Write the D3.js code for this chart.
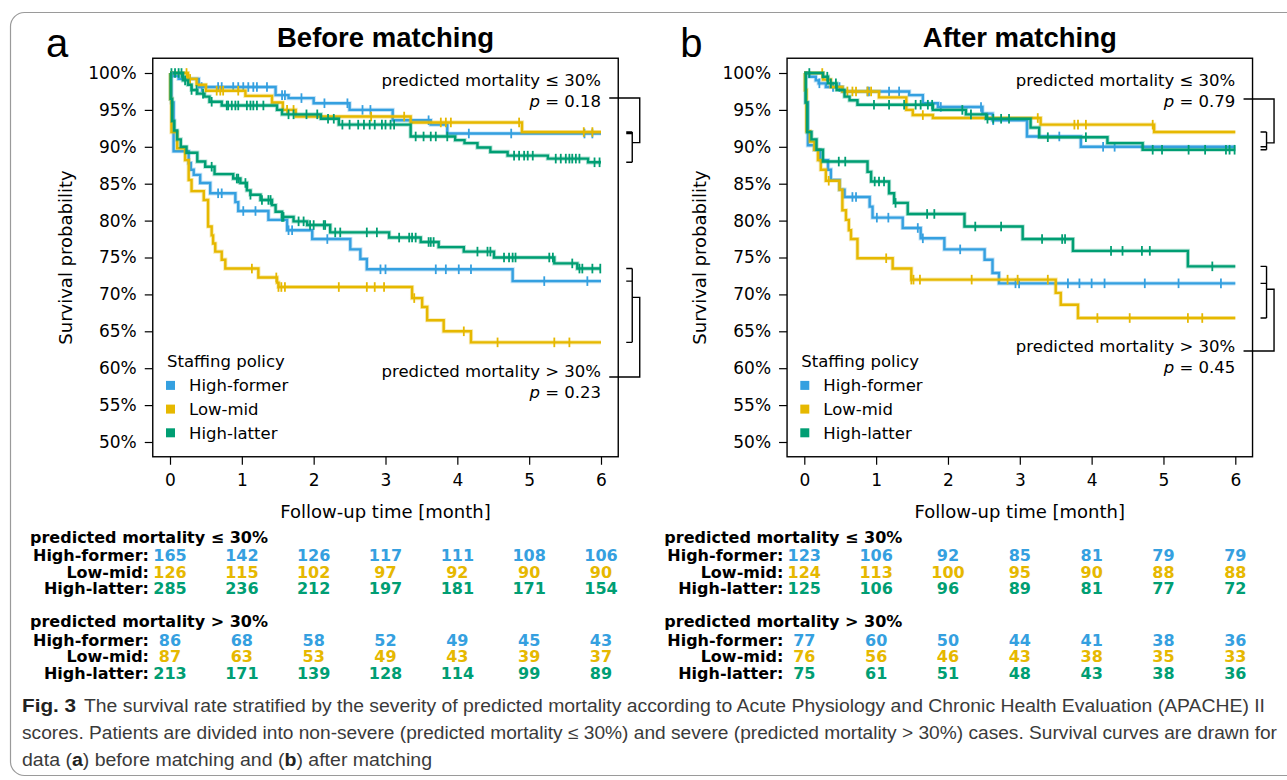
<!DOCTYPE html>
<html>
<head>
<meta charset="utf-8">
<script src="https://cdn.jsdelivr.net/npm/d3@7"></script>
<style>
  body { margin: 0; background: #fff; }
  svg { display: block; }
</style>
</head>
<body>
<svg id="chart" width="1287" height="780"></svg>
<script>
// groups and axis ticks
const groups = ['High-former', 'Low-mid', 'High-latter'];
const groupColors = ['#35a0e0', '#e6b800', '#009e73'];
const timeTicks = [0, 1, 2, 3, 4, 5, 6];
const survTicks = [50, 55, 60, 65, 70, 75, 80, 85, 90, 95, 100];

// Kaplan-Meier steps [month, survival %]
// before matching, predicted mortality <= 30%
const beforeLowHF = [[0,100],[0.05,99.6],[0.12,99.2],[0.4,98.1],[1.47,97.0],[1.65,96.6],[2.0,95.9],[2.5,95.0],[3.1,93.6],[3.63,93.0],[3.86,91.8]];
const beforeLowLM = [[0,100],[0.25,99.2],[0.37,98.4],[0.5,97.6],[1.05,96.9],[1.42,96.0],[1.57,95.0],[1.75,94.1],[3.35,93.3],[4.9,92.0]];
const beforeLowHL = [[0,100],[0.18,99.0],[0.25,98.4],[0.3,97.7],[0.38,97.2],[0.48,96.8],[0.55,96.1],[0.72,95.6],[1.49,95.0],[1.56,94.4],[2.1,93.8],[2.35,93.0],[3.35,91.4],[3.97,90.9],[4.1,90.5],[4.28,89.9],[4.46,89.3],[4.7,88.8],[5.26,88.4],[5.82,87.9]];
// before matching, predicted mortality > 30%
const beforeHighHF = [[0,100],[0.02,96.0],[0.05,89.4],[0.26,87.8],[0.29,86.9],[0.33,86.2],[0.42,85.1],[0.56,83.7],[0.91,82.5],[0.95,81.3],[1.37,80.1],[1.63,78.7],[1.98,77.5],[2.51,76.1],[2.65,74.8],[2.74,73.4],[4.77,71.8]];
const beforeHighLM = [[0,100],[0.005,96.5],[0.02,92.0],[0.1,89.8],[0.21,88.2],[0.26,85.5],[0.3,84.0],[0.47,82.8],[0.53,79.2],[0.58,78.0],[0.6,76.9],[0.63,75.8],[0.72,74.7],[0.77,73.5],[1.23,72.3],[1.49,71.6],[1.51,71.0],[3.37,69.5],[3.51,68.3],[3.58,66.5],[3.81,65.0],[4.19,63.5]];
const beforeHighHL = [[0,100],[0.01,96.5],[0.03,93.5],[0.06,92.2],[0.1,91.0],[0.15,90.0],[0.23,89.2],[0.38,88.0],[0.49,87.3],[0.62,86.3],[0.88,85.7],[0.98,85.1],[1.07,84.1],[1.12,83.5],[1.26,82.8],[1.42,82.1],[1.47,81.2],[1.56,80.5],[1.72,79.9],[1.91,79.4],[2.23,78.4],[3.05,77.7],[3.49,77.1],[3.74,76.4],[4.09,75.8],[4.51,75.0],[5.35,74.2],[5.67,73.5]];
// after matching, predicted mortality <= 30%
const afterLowHF = [[0,100],[0.07,99.5],[0.16,99.0],[0.2,98.6],[0.3,98.1],[0.53,97.5],[1.46,97.0],[1.65,95.9],[1.86,95.4],[2.48,94.5],[2.62,93.6],[3.1,91.4],[3.85,90.0]];
const afterLowLM = [[0,100],[0.26,99.1],[0.37,98.1],[0.53,97.5],[1.04,96.7],[1.42,95.0],[1.51,94.3],[1.79,93.9],[3.29,93.0],[4.87,92.0]];
const afterLowHL = [[0,100],[0.26,99.5],[0.33,98.6],[0.45,97.7],[0.56,96.8],[0.63,96.3],[0.74,95.7],[1.79,95.0],[2.25,94.4],[2.53,93.8],[3.15,92.6],[3.27,91.3],[4.22,90.5],[4.71,89.6]];
// after matching, predicted mortality > 30%
const afterHighHF = [[0,100],[0.02,96.0],[0.05,90.2],[0.14,89.6],[0.22,88.2],[0.33,86.9],[0.37,85.5],[0.49,84.2],[0.56,83.2],[0.91,81.9],[0.95,80.4],[1.37,79.0],[1.62,77.6],[1.95,76.1],[2.51,74.7],[2.62,72.9],[2.71,71.5]];
const afterHighLM = [[0,100],[0.01,97.7],[0.03,92.1],[0.08,90.7],[0.14,89.6],[0.19,88.2],[0.23,86.9],[0.3,85.4],[0.49,84.2],[0.53,81.4],[0.58,80.1],[0.62,78.7],[0.65,77.5],[0.74,74.9],[1.23,73.5],[1.49,72.0],[3.5,70.2],[3.57,68.6],[3.81,66.8]];
const afterHighHL = [[0,100],[0.02,96.0],[0.04,92.0],[0.1,91.0],[0.17,89.6],[0.26,88.0],[0.88,86.6],[0.93,85.3],[1.18,83.7],[1.25,82.4],[1.44,80.9],[2.23,79.2],[3.04,77.5],[3.74,75.9],[5.34,73.8]];

// censoring times (month)
const beforeLowHFCens = [0.44,0.67,0.72,0.88,0.95,1.02,1.09,1.16,1.21,1.35,1.56,1.6,1.83,2.15,2.47,2.68,2.79,3.6,4.16,4.75,5.77,5.88];
const beforeLowLMCens = [0.23,0.28,0.65,0.7,0.74,0.95,1.63,1.72,2.8,3.26,3.77,3.84,3.91,4.86,5.76,5.88];
const beforeLowHLCens = [0.02,0.07,0.12,0.16,0.21,0.3,0.37,0.46,0.58,0.79,0.81,0.86,0.91,0.95,1.07,1.12,1.16,1.21,1.3,1.65,1.72,1.9,2.05,2.2,2.28,2.4,2.5,2.62,2.7,2.78,2.85,2.95,3.0,3.07,3.12,3.42,3.53,3.63,3.7,3.86,4.79,4.86,4.93,4.98,5.05,5.37,5.44,5.51,5.56,5.6,5.65,5.7,5.91,5.98];
const beforeHighHFCens = [0.67,0.72,1.02,1.19,1.65,1.7,2.19,2.93,3.0,3.7,3.84,4.02,4.19,5.21,5.81];
const beforeHighLMCens = [1.14,1.48,1.51,1.55,1.6,2.35,2.74,2.85,2.98,3.4,4.09,4.56,5.35,5.56];
const beforeHighHLCens = [0.58,0.93,0.95,1.05,1.12,1.28,1.37,1.4,1.56,1.58,1.79,1.86,1.95,2.0,2.14,2.16,2.3,2.37,2.74,2.88,3.19,3.33,3.37,3.42,3.6,3.63,3.67,4.28,4.42,4.46,4.65,4.72,4.77,4.81,5.28,5.33,5.6,5.7,5.74,5.88,5.99];
const afterLowHFCens = [0.21,0.4,0.49,0.88,0.9,1.18,1.32,1.9,2.46,2.63,3.55,4.16,4.32];
const afterLowLMCens = [0.25,0.6,0.67,0.72,0.88,0.93,1.65,3.25,3.76,3.81,3.92,4.85];
const afterLowHLCens = [0.07,0.32,0.37,0.44,0.97,1.18,1.39,1.55,1.62,1.72,1.78,2.2,2.32,2.55,2.63,2.74,2.85,3.39,3.92,4.85,4.98,5.35,5.58,5.87,5.92,5.99];
const afterHighHFCens = [0.67,0.72,1.01,1.17,1.58,1.65,2.17,2.94,2.99,3.67,3.83,4.0,4.18,4.74,5.21,5.8];
const afterHighLMCens = [0.34,1.14,1.49,1.52,1.61,2.33,2.83,2.97,3.39,4.08,4.53,5.34,5.54];
const afterHighHLCens = [0.48,0.57,0.98,1.04,1.11,1.27,1.71,1.81,2.38,2.74,3.31,3.59,3.63,4.27,4.43,4.7,4.81,5.68];

// numbers at risk at months 0..6
const beforeRiskLowHF = [165,142,126,117,111,108,106];
const beforeRiskLowLM = [126,115,102,97,92,90,90];
const beforeRiskLowHL = [285,236,212,197,181,171,154];
const beforeRiskHighHF = [86,68,58,52,49,45,43];
const beforeRiskHighLM = [87,63,53,49,43,39,37];
const beforeRiskHighHL = [213,171,139,128,114,99,89];
const afterRiskLowHF = [123,106,92,85,81,79,79];
const afterRiskLowLM = [124,113,100,95,90,88,88];
const afterRiskLowHL = [125,106,96,89,81,77,72];
const afterRiskHighHF = [77,60,50,44,41,38,36];
const afterRiskHighLM = [76,56,46,43,38,35,33];
const afterRiskHighHL = [75,61,51,48,43,38,36];

const pValues = [['0.18', '0.23'], ['0.79', '0.45']];

const panels = [
  {
    off: 0, letter: 'a', title: 'Before matching',
    low: [beforeLowHF, beforeLowLM, beforeLowHL],
    high: [beforeHighHF, beforeHighLM, beforeHighHL],
    lowCens: [beforeLowHFCens, beforeLowLMCens, beforeLowHLCens],
    highCens: [beforeHighHFCens, beforeHighLMCens, beforeHighHLCens],
    riskLow: [beforeRiskLowHF, beforeRiskLowLM, beforeRiskLowHL],
    riskHigh: [beforeRiskHighHF, beforeRiskHighLM, beforeRiskHighHL],
    p: pValues[0], lowTextY: 86, highTextY: 377, lowBrY: 98, highBrY: 377
  },
  {
    off: 634.3, letter: 'b', title: 'After matching',
    low: [afterLowHF, afterLowLM, afterLowHL],
    high: [afterHighHF, afterHighLM, afterHighHL],
    lowCens: [afterLowHFCens, afterLowLMCens, afterLowHLCens],
    highCens: [afterHighHFCens, afterHighLMCens, afterHighHLCens],
    riskLow: [afterRiskLowHF, afterRiskLowLM, afterRiskLowHL],
    riskHigh: [afterRiskHighHF, afterRiskHighLM, afterRiskHighHL],
    p: pValues[1], lowTextY: 86, highTextY: 352, lowBrY: 99, highBrY: 351
  }
];

const svg = d3.select('#chart');
const plotFont = 'DejaVu Sans, Verdana, sans-serif';
const headFont = 'Liberation Sans, Arial, Helvetica, sans-serif';

// figure border
svg.append('rect')
  .attr('x', 10.5).attr('y', 12.5)
  .attr('width', 1300).attr('height', 763)
  .attr('rx', 14)
  .attr('fill', 'none')
  .attr('stroke', '#9a9a9a')
  .attr('stroke-width', 1.2);

const y = d3.scaleLinear().domain([50, 100]).range([442, 73]);

function survAt(steps, t) {
  let s = steps[0][1];
  for (const [tt, v] of steps) if (tt <= t) s = v;
  return s;
}

function drawPanel(p) {
  const g = svg.append('g');
  const x = d3.scaleLinear().domain([0, 6]).range([170 + p.off, 601 + p.off]);
  const left = x(-0.24), right = x(6.24), top = y(102), bottom = y(48);

  // panel letter + title
  g.append('text').attr('x', 46 + p.off).attr('y', 57)
    .attr('font-family', headFont).attr('font-size', 40).text(p.letter);
  g.append('text').attr('x', (left + right) / 2).attr('y', 47)
    .attr('text-anchor', 'middle').attr('font-family', headFont)
    .attr('font-weight', 'bold').attr('font-size', 27.5).text(p.title);

  // axes
  const yAxis = g.append('g').attr('transform', 'translate(' + left + ',0)')
    .call(d3.axisLeft(y).tickValues(survTicks).tickFormat(d => d + '%').tickSize(8).tickPadding(8));
  const xAxis = g.append('g').attr('transform', 'translate(0,' + bottom + ')')
    .call(d3.axisBottom(x).tickValues(timeTicks).tickFormat(d3.format('d')).tickSize(8).tickPadding(9));
  [yAxis, xAxis].forEach(a => {
    a.select('.domain').remove();
    a.selectAll('line').attr('stroke', '#000').attr('stroke-width', 1.2);
    a.selectAll('text').attr('font-family', plotFont).attr('font-size', 17).attr('fill', '#000');
  });

  // frame
  g.append('rect').attr('x', left).attr('y', top)
    .attr('width', right - left).attr('height', bottom - top)
    .attr('fill', 'none').attr('stroke', '#000').attr('stroke-width', 1.4);

  // axis titles
  g.append('text')
    .attr('transform', 'translate(' + (72 + p.off) + ',' + ((top + bottom) / 2) + ') rotate(-90)')
    .attr('text-anchor', 'middle').attr('font-family', plotFont).attr('font-size', 18)
    .text('Survival probability');
  g.append('text').attr('x', (left + right) / 2).attr('y', 518)
    .attr('text-anchor', 'middle').attr('font-family', plotFont).attr('font-size', 18)
    .text('Follow-up time [month]');

  // curves
  const line = d3.line().x(d => x(d[0])).y(d => y(d[1])).curve(d3.curveStepAfter);
  [[p.low, p.lowCens], [p.high, p.highCens]].forEach(([curves, cens]) => {
    curves.forEach((steps, i) => {
      const pts = steps.concat([[6, steps[steps.length - 1][1]]]);
      g.append('path').datum(pts).attr('d', line)
        .attr('fill', 'none').attr('stroke', groupColors[i])
        .attr('stroke-width', 4.2).attr('stroke-opacity', 0.3);
      g.append('path').datum(pts).attr('d', line)
        .attr('fill', 'none').attr('stroke', groupColors[i])
        .attr('stroke-width', 2.4);
      g.append('g').selectAll('line').data(cens[i]).join('line')
        .attr('x1', d => x(d)).attr('x2', d => x(d))
        .attr('y1', d => y(survAt(steps, d)) - 4.8)
        .attr('y2', d => y(survAt(steps, d)) + 4.8)
        .attr('stroke', groupColors[i]).attr('stroke-width', 1.8);
    });
  });

  // legend
  g.append('text').attr('x', 167 + p.off).attr('y', 367)
    .attr('font-family', plotFont).attr('font-size', 16.5).text('Staffing policy');
  groups.forEach((name, i) => {
    const cy = 385.4 + i * 23.7;
    g.append('rect').attr('x', 166 + p.off).attr('y', cy - 4.5)
      .attr('width', 9).attr('height', 9).attr('fill', groupColors[i]);
    g.append('text').attr('x', 189 + p.off).attr('y', cy + 6)
      .attr('font-family', plotFont).attr('font-size', 16.5).text(name);
  });

  // annotations and brackets
  const ann = [
    { label: 'predicted mortality \u2264 30%', pv: p.p[0], ty: p.lowTextY, by: p.lowBrY, curves: p.low },
    { label: 'predicted mortality > 30%', pv: p.p[1], ty: p.highTextY, by: p.highBrY, curves: p.high }
  ];
  ann.forEach(a => {
    g.append('text').attr('x', x(6)).attr('y', a.ty).attr('text-anchor', 'end')
      .attr('font-family', plotFont).attr('font-size', 16.5).text(a.label);
    const pt = g.append('text').attr('x', x(6)).attr('y', a.ty + 20.5).attr('text-anchor', 'end')
      .attr('font-family', plotFont).attr('font-size', 16.5);
    pt.append('tspan').attr('font-style', 'italic').text('p');
    pt.append('tspan').text(' = ' + a.pv);

    const ends = a.curves.map(s => s[s.length - 1][1]);
    const ys = ends.map(v => y(v));
    const inX = right + 14, stubX = right + 8, outX = right + 21.5;
    let d = '';
    ys.forEach(yy => { d += 'M' + stubX + ',' + yy + 'H' + inX; });
    d += 'M' + inX + ',' + d3.min(ys) + 'V' + d3.max(ys);
    const my = y(d3.mean(ends));
    d += 'M' + (right - 9) + ',' + a.by + 'H' + outX + 'V' + my + 'H' + inX;
    g.append('path').attr('d', d).attr('fill', 'none')
      .attr('stroke', '#000').attr('stroke-width', 1.4);
  });

  // numbers at risk
  const tableFont = 'DejaVu Sans, Verdana, sans-serif';
  const blocks = [
    { head: 'predicted mortality \u2264 30%', hy: 543, rows: p.riskLow, ry: [561, 577.5, 594] },
    { head: 'predicted mortality > 30%', hy: 626.5, rows: p.riskHigh, ry: [645.5, 662, 678.5] }
  ];
  blocks.forEach(b => {
    g.append('text').attr('x', 30 + p.off).attr('y', b.hy)
      .attr('font-family', tableFont).attr('font-weight', 'bold').attr('font-size', 16)
      .text(b.head);
    b.rows.forEach((vals, i) => {
      g.append('text').attr('x', 149 + p.off).attr('y', b.ry[i]).attr('text-anchor', 'end')
        .attr('font-family', tableFont).attr('font-weight', 'bold').attr('font-size', 16)
        .text(groups[i] + ':');
      g.append('g').selectAll('text').data(vals).join('text')
        .attr('x', (d, k) => x(timeTicks[k])).attr('y', b.ry[i])
        .attr('text-anchor', 'middle')
        .attr('font-family', tableFont).attr('font-weight', 'bold').attr('font-size', 16)
        .attr('fill', groupColors[i]).text(d => d);
    });
  });
}

panels.forEach(drawPanel);

// caption
const capFont = 'Liberation Sans Narrow, Liberation Sans, Arial, sans-serif';
const cap = svg.append('g').attr('fill', '#3a3a3a').attr('font-family', capFont).attr('font-size', 17.5);
cap.append('text').attr('x', 22).attr('y', 712).attr('font-weight', 'bold').attr('fill', '#222')
  .attr('textLength', 54).attr('lengthAdjust', 'spacingAndGlyphs').text('Fig. 3');
cap.append('text').attr('x', 84).attr('y', 712)
  .attr('textLength', 1181).attr('lengthAdjust', 'spacingAndGlyphs')
  .text('The survival rate stratified by the severity of predicted mortality according to Acute Physiology and Chronic Health Evaluation (APACHE) II');
cap.append('text').attr('x', 22).attr('y', 739)
  .attr('textLength', 1255).attr('lengthAdjust', 'spacingAndGlyphs')
  .text('scores. Patients are divided into non-severe (predicted mortality \u2264 30%) and severe (predicted mortality > 30%) cases. Survival curves are drawn for');
const l3 = cap.append('text').attr('x', 22).attr('y', 766)
  .attr('textLength', 410).attr('lengthAdjust', 'spacingAndGlyphs');
l3.append('tspan').text('data (');
l3.append('tspan').attr('font-weight', 'bold').attr('fill', '#222').text('a');
l3.append('tspan').text(') before matching and (');
l3.append('tspan').attr('font-weight', 'bold').attr('fill', '#222').text('b');
l3.append('tspan').text(') after matching');
</script>
</body>
</html>
